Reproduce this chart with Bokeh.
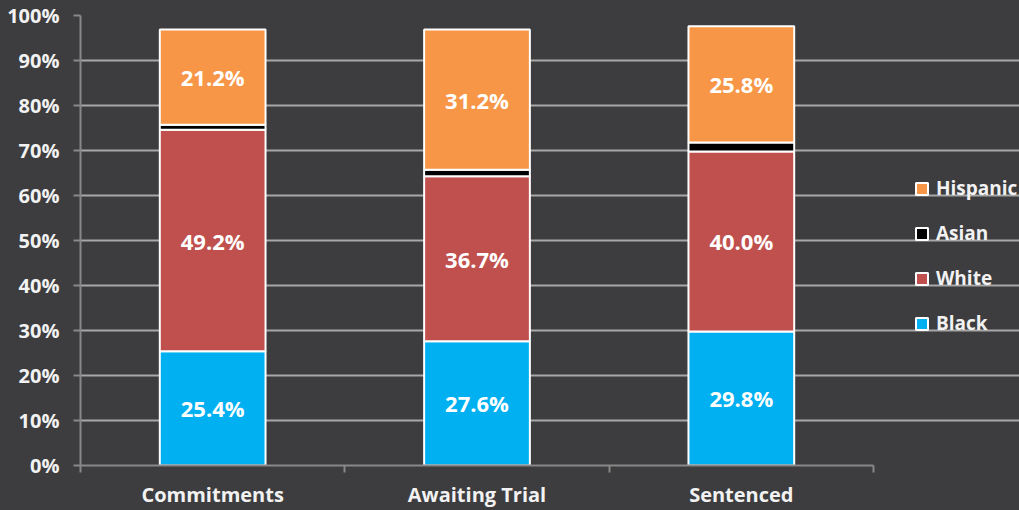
from bokeh.plotting import figure
from bokeh.models import (ColumnDataSource, Range1d, FixedTicker, Legend, LegendItem,
                          LinearAxis, Grid)
from bokeh.core.properties import value
from bokeh.embed import file_html
from bokeh.resources import INLINE

categories = ["Commitments", "Awaiting Trial", "Sentenced"]
black = [25.4, 27.6, 29.8]
white = [49.2, 36.7, 40.0]
asian = [1.1, 1.4, 2.0]
hispanic = [21.2, 31.2, 25.8]
series = ["Black", "White", "Asian", "Hispanic"]
colors = ["#00B0F0", "#C0504D", "#000000", "#F79646"]
y_ticks = list(range(0, 101, 10))

BG = "#3d3d3f"
FONT = "Open Sans"
TXT = "#f2f2f2"

W, H = 1019, 510
LEFT, TOP, BOTTOM = 80, 15, 45
AXIS_PX = 793  # pixel length of the category axis
n = len(categories)
x_end = n * (W - LEFT) / AXIS_PX

xpos = [i + 0.5 for i in range(n)]
src = ColumnDataSource(dict(x=xpos, Black=black, White=white, Asian=asian, Hispanic=hispanic))

p = figure(width=W, height=H, output_backend="svg", toolbar_location=None,
           x_range=Range1d(0, x_end), y_range=Range1d(0, 100),
           x_axis_type=None, y_axis_type=None,
           background_fill_color=BG, border_fill_color=BG,
           min_border_left=LEFT, min_border_right=0, min_border_top=TOP, min_border_bottom=BOTTOM)
p.outline_line_color = None

g = Grid(dimension=1, ticker=FixedTicker(ticks=y_ticks), bounds=(0, n))
g.grid_line_color = "#a8a8a8"
g.grid_line_width = 2
p.add_layout(g)

renderers = p.vbar_stack(series, x="x", width=0.4, source=src, color=colors,
                         line_color="white", line_width=2)

# y axis
yax = LinearAxis(ticker=FixedTicker(ticks=y_ticks))
yax.major_label_overrides = {t: f"{t}%" for t in y_ticks}
yax.axis_line_color = "#888888"
yax.axis_line_width = 2
yax.major_tick_line_color = "#888888"
yax.major_tick_line_width = 2
yax.major_tick_in = 0
yax.major_tick_out = 7
yax.minor_tick_line_color = None
yax.major_label_standoff = 14
yax.major_label_text_color = TXT
yax.major_label_text_font = FONT
yax.major_label_text_font_style = "bold"
yax.major_label_text_font_size = "20px"
p.add_layout(yax, "left")

# x axis
xax = LinearAxis(ticker=FixedTicker(ticks=xpos, minor_ticks=list(range(n + 1))), bounds=(0, n))
xax.major_label_overrides = {x: c for x, c in zip(xpos, categories)}
xax.axis_line_color = "#888888"
xax.axis_line_width = 2
xax.major_tick_line_color = None
xax.major_tick_in = 0
xax.major_tick_out = 0
xax.minor_tick_line_color = "#888888"
xax.minor_tick_line_width = 2
xax.minor_tick_in = 0
xax.minor_tick_out = 7
xax.major_label_standoff = 8
xax.major_label_text_color = TXT
xax.major_label_text_font = FONT
xax.major_label_text_font_style = "bold"
xax.major_label_text_font_size = "20px"
p.add_layout(xax, "below")

# value labels
lx, ly, lt = [], [], []
for i in range(n):
    b, w, a, h = black[i], white[i], asian[i], hispanic[i]
    lx += [xpos[i]] * 3
    ly += [b / 2, b + w / 2, b + w + a + h / 2]
    lt += [f"{b:.1f}%", f"{w:.1f}%", f"{h:.1f}%"]
p.text(x=lx, y=ly, text=lt, text_color="white", text_font=value(FONT),
       text_font_style="bold", text_font_size="22px", text_align="center",
       text_baseline="middle")

# legend
items = [LegendItem(label=s, renderers=[r]) for s, r in zip(series, renderers)][::-1]
legend = Legend(items=items, location=(834, 129), background_fill_alpha=0,
                border_line_color=None, padding=0, margin=0, spacing=19,
                glyph_width=15, glyph_height=15, label_height=26, label_standoff=7,
                label_text_color=TXT, label_text_font=FONT,
                label_text_font_style="bold", label_text_font_size="19px")
p.add_layout(legend)

html = file_html(p, INLINE)
html = html.replace("<head>", "<head><style>html,body{margin:0;padding:0;overflow:hidden;background:%s;}</style>" % BG, 1)
open("out.html", "w").write(html)
